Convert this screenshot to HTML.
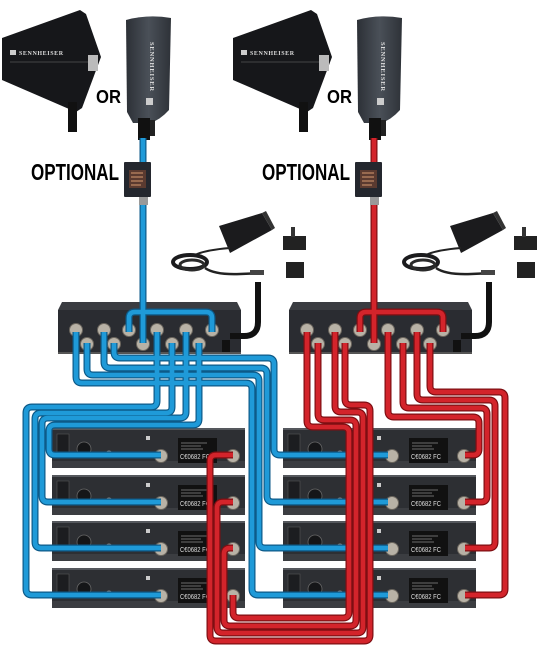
<!DOCTYPE html>
<html><head><meta charset="utf-8"><style>
html,body{margin:0;padding:0;background:#fff;}
svg{display:block}
.e{fill:none;stroke-linejoin:round;stroke-linecap:butt}
.be{stroke:#0d5a88;stroke-width:7}
.bc{stroke:#1f9ad8;stroke-width:4.6}
.re{stroke:#7e0e12;stroke-width:7}
.rc{stroke:#d3242b;stroke-width:4.6}
</style></head><body>
<svg width="550" height="645" viewBox="0 0 550 645" xmlns="http://www.w3.org/2000/svg">
<defs>
<linearGradient id="tall" x1="0" x2="1"><stop offset="0" stop-color="#2c3036"/><stop offset="0.5" stop-color="#4a5058"/><stop offset="1" stop-color="#2e3238"/></linearGradient>
<g id="ant">
  <polygon points="2,38 80,10 86,14 101,57 82,108 76,112 2,80" fill="#16171a"/>
  <line x1="10" y1="62" x2="88" y2="62" stroke="#555" stroke-width="0.8"/>
  <rect x="10" y="50" width="6" height="5" fill="#ccc"/>
  <text x="19" y="55" font-family="Liberation Serif, serif" font-size="6" font-weight="bold" fill="#ddd" letter-spacing="0.6">SENNHEISER</text>
  <rect x="88" y="55" width="10" height="16" fill="#bbb"/>
  <rect x="68" y="102" width="9" height="30" fill="#111"/>
  <path d="M126,20 Q148,14 171,18 L169,110 Q160,120 150,123 L133,123 L127,112 Z" fill="url(#tall)"/>
  <text transform="translate(150,42) rotate(90)" font-family="Liberation Serif, serif" font-size="6.5" font-weight="bold" fill="#ddd" letter-spacing="0.8">SENNHEISER</text>
  <rect x="146" y="98" width="7" height="7" fill="#ccc"/>
  <rect x="138" y="118" width="12" height="22" fill="#111"/>
  <rect x="150" y="120" width="5" height="16" fill="#222"/>
  <text x="96" y="103" font-family="Liberation Sans, sans-serif" font-weight="bold" font-size="18" textLength="25" lengthAdjust="spacingAndGlyphs">OR</text>
  <text x="31" y="180" font-family="Liberation Sans, sans-serif" font-weight="bold" font-size="23" textLength="88" lengthAdjust="spacingAndGlyphs">OPTIONAL</text>
</g>
<g id="split">
  <rect x="124" y="162" width="27" height="35" fill="#24272e" rx="1"/>
  <rect x="129" y="170" width="17" height="18" fill="#5a3a30"/>
  <path d="M131,173h12M131,177h12M131,181h12M131,185h10" stroke="#d79a70" stroke-width="1"/>
  <rect x="139" y="197" width="9" height="8" fill="#999"/>
</g>
<g id="psu">
  <polygon points="219,226 262,213 272,230 230,253" fill="#1b1b1d"/>
  <polygon points="262,213 272,230 275,228 266,211" fill="#333"/>
  <path d="M230,248 Q205,250 195,255" stroke="#222" stroke-width="2" fill="none"/>
  <ellipse cx="190" cy="262" rx="17" ry="7" fill="none" stroke="#1b1b1d" stroke-width="4"/>
  <ellipse cx="192" cy="265" rx="12" ry="5" fill="none" stroke="#2a2a2a" stroke-width="3"/>
  <path d="M205,268 Q215,275 240,274 L262,273" stroke="#222" stroke-width="2.5" fill="none"/>
  <rect x="250" y="270" width="14" height="5" fill="#444"/>
  <rect x="283" y="236" width="23" height="14" fill="#222"/>
  <rect x="291" y="227" width="4" height="10" fill="#333"/>
  <rect x="286" y="262" width="18" height="16" fill="#222"/>
</g>
<g id="box">
  <polygon points="62,302 237,302 241,310 58,310" fill="#3a3c41"/>
  <rect x="58" y="310" width="183" height="44" fill="#2a2c31"/>
  <rect x="58" y="352" width="183" height="2" fill="#555"/>
  <rect x="222" y="340" width="8" height="12" fill="#111"/>
  <g fill="#b8b2a6" stroke="#6b665e" stroke-width="1">
   <circle cx="76" cy="330" r="6.5"/><circle cx="104" cy="330" r="6.5"/><circle cx="129" cy="330" r="6.5"/><circle cx="157" cy="330" r="6.5"/><circle cx="186" cy="330" r="6.5"/><circle cx="212" cy="330" r="6.5"/>
   <circle cx="87" cy="344" r="6.5"/><circle cx="114" cy="344" r="6.5"/><circle cx="143" cy="344" r="6.5"/><circle cx="172" cy="344" r="6.5"/><circle cx="199" cy="344" r="6.5"/>
  </g>
</g>
<g id="rx">
  <rect x="52" y="0" width="193" height="40" fill="#2d2f33"/>
  <rect x="52" y="0" width="193" height="2" fill="#55585d"/>
  <rect x="52" y="33" width="193" height="7" fill="#3b3d41"/>
  <rect x="57" y="6" width="12" height="20" fill="#1c1d20" stroke="#555" stroke-width="0.6"/>
  <circle cx="84" cy="21" r="7" fill="#151618" stroke="#666" stroke-width="0.8"/>
  <circle cx="109" cy="26" r="3" fill="none" stroke="#888" stroke-width="1"/>
  <rect x="120" y="24" width="9" height="5" fill="#1a1a1a"/><rect x="137" y="24" width="9" height="5" fill="#1a1a1a"/>
  <rect x="146" y="8" width="4" height="4" fill="#ccc"/>
  <rect x="178" y="10" width="39" height="25" fill="#111"/>
  <text x="180" y="31" font-family="Liberation Sans, sans-serif" font-size="7" fill="#ddd" textLength="30" lengthAdjust="spacingAndGlyphs">C€0682 FC</text>
  <path d="M181,15h26M181,18h20M181,21h22" stroke="#888" stroke-width="0.7"/>
  <circle cx="161" cy="28" r="6.5" fill="#b8b2a6" stroke="#6b665e"/>
  <circle cx="233" cy="28" r="6.5" fill="#b8b2a6" stroke="#6b665e"/>
</g>
<path id="b0" d="M143,138 V343"/>
<path id="bl" d="M129,332 V318 Q129,312 135,312 H206 Q212,312 212,318 V332"/>
<path id="b1" d="M76,332 V377 Q76,383 82,383 H246 Q252,383 252,389 V589 Q252,595 258,595 H388"/>
<path id="b2" d="M87,343 V369 Q87,375 93,375 H253 Q259,375 259,381 V542 Q259,548 265,548 H388"/>
<path id="b3" d="M104,332 V362 Q104,368 110,368 H261 Q267,368 267,374 V496 Q267,502 273,502 H388"/>
<path id="b4" d="M114,343 V352 Q114,358 120,358 H268 Q274,358 274,364 V449 Q274,455 280,455 H388"/>
<path id="b5" d="M157,332 V401 Q157,407 151,407 H32 Q26,407 26,413 V589 Q26,595 32,595 H161"/>
<path id="b6" d="M172,343 V407 Q172,413 166,413 H41 Q35,413 35,419 V542 Q35,548 41,548 H161"/>
<path id="b7" d="M186,332 V412 Q186,418 180,418 H48 Q42,418 42,424 V496 Q42,502 48,502 H161"/>
<path id="b8" d="M199,343 V419 Q199,425 193,425 H55 Q49,425 49,431 V449 Q49,455 55,455 H161"/>
<path id="r0" d="M374,138 V343"/>
<path id="rl" d="M360,332 V318 Q360,312 366,312 H437 Q443,312 443,318 V332"/>
<path id="r1" d="M307,332 V421 Q307,427 313,427 H343 Q349,427 349,433 V612 Q349,618 343,618 H239 Q233,618 233,612 V595"/>
<path id="r2" d="M318,343 V414 Q318,420 324,420 H350 Q356,420 356,426 V620 Q356,626 350,626 H230 Q224,626 224,620 V554 Q224,548 230,548 H233"/>
<path id="r3" d="M335,332 V406 Q335,412 341,412 H357 Q363,412 363,418 V627 Q363,633 357,633 H223 Q217,633 217,627 V508 Q217,502 223,502 H233"/>
<path id="r4" d="M345,343 V399 Q345,405 351,405 H364 Q370,405 370,411 V635 Q370,641 364,641 H216 Q210,641 210,635 V461 Q210,455 216,455 H233"/>
<path id="r5" d="M388,332 V411 Q388,417 394,417 H473 Q479,417 479,423 V449 Q479,455 473,455 H465"/>
<path id="r6" d="M403,343 V402 Q403,408 409,408 H481 Q487,408 487,414 V496 Q487,502 481,502 H465"/>
<path id="r7" d="M417,332 V394 Q417,400 423,400 H489 Q495,400 495,406 V542 Q495,548 489,548 H465"/>
<path id="r8" d="M430,343 V386 Q430,392 436,392 H499 Q505,392 505,398 V589 Q505,595 499,595 H465"/>
</defs>

<use href="#ant"/>
<use href="#ant" transform="translate(231,0)"/>
<use href="#psu"/>
<use href="#psu" transform="translate(231,0)"/>
<use href="#box"/>
<use href="#box" transform="translate(231,0)"/>
<g>
<use href="#rx" transform="translate(0,428)"/>
<use href="#rx" transform="translate(0,475)"/>
<use href="#rx" transform="translate(0,521)"/>
<use href="#rx" transform="translate(0,568)"/>
<use href="#rx" transform="translate(231,428)"/>
<use href="#rx" transform="translate(231,475)"/>
<use href="#rx" transform="translate(231,521)"/>
<use href="#rx" transform="translate(231,568)"/>
</g>
<path d="M258,282 L258,322 Q258,336 244,336 L230,336" fill="none" stroke="#111" stroke-width="6"/>
<path d="M489,282 L489,322 Q489,336 475,336 L461,336" fill="none" stroke="#111" stroke-width="6"/>
<g class="e be"><use href="#b0"/><use href="#bl"/><use href="#b1"/><use href="#b2"/><use href="#b3"/><use href="#b4"/><use href="#b5"/><use href="#b6"/><use href="#b7"/><use href="#b8"/></g>
<g class="e bc"><use href="#b0"/><use href="#bl"/><use href="#b1"/><use href="#b2"/><use href="#b3"/><use href="#b4"/><use href="#b5"/><use href="#b6"/><use href="#b7"/><use href="#b8"/></g>
<g class="e re"><use href="#r0"/><use href="#rl"/><use href="#r1"/><use href="#r2"/><use href="#r3"/><use href="#r4"/><use href="#r5"/><use href="#r6"/><use href="#r7"/><use href="#r8"/></g>
<g class="e rc"><use href="#r0"/><use href="#rl"/><use href="#r1"/><use href="#r2"/><use href="#r3"/><use href="#r4"/><use href="#r5"/><use href="#r6"/><use href="#r7"/><use href="#r8"/></g>
<use href="#split"/>
<use href="#split" transform="translate(231,0)"/>
</svg>
</body></html>
